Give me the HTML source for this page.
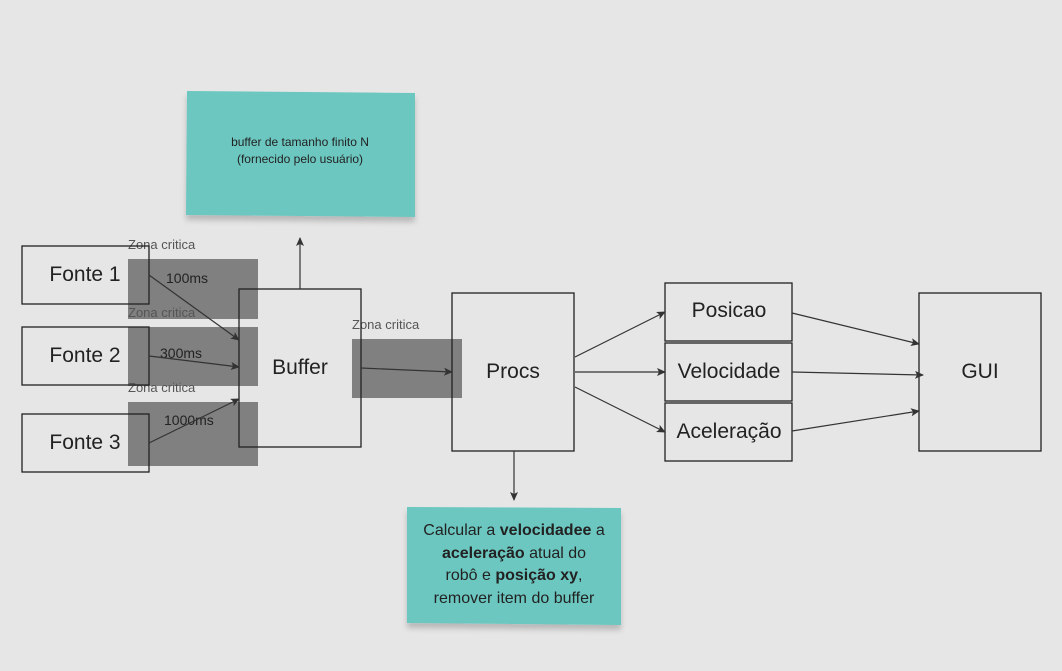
<!DOCTYPE html>
<html><head><meta charset="utf-8"><style>
html,body{margin:0;padding:0;background:#e6e6e6;}
svg{display:block;font-family:"Liberation Sans","DejaVu Sans",sans-serif;}
</style></head><body>
<svg width="1062" height="671" viewBox="0 0 1062 671" xmlns="http://www.w3.org/2000/svg">
<defs>
<marker id="a" markerWidth="10" markerHeight="10" refX="8" refY="5" orient="auto" markerUnits="userSpaceOnUse"><path d="M0,1 L9,5 L0,9 L2,5 z" fill="#333"/></marker>
<filter id="sh" x="-10%" y="-10%" width="120%" height="130%"><feDropShadow dx="0" dy="5" stdDeviation="3" flood-color="#000" flood-opacity="0.2"/></filter>
</defs>
<rect width="1062" height="671" fill="#e6e6e6"/>
<!-- sticky notes -->
<path d="M187,91 L415,93 L415,217 L186,215 z" fill="#6cc7c0" filter="url(#sh)"/>
<text x="300" y="146" font-size="12" text-anchor="middle" fill="#222">buffer de tamanho finito N</text>
<text x="300" y="163" font-size="12" text-anchor="middle" fill="#222">(fornecido pelo usuário)</text>
<path d="M407,507 L621,508 L621,625 L407,623 z" fill="#6cc7c0" filter="url(#sh)"/>
<g font-size="16" text-anchor="middle" fill="#222">
<text x="514" y="535">Calcular a <tspan font-weight="bold">velocidadee</tspan> a</text>
<text x="514" y="558"><tspan font-weight="bold">aceleração</tspan> atual do</text>
<text x="514" y="580">robô e <tspan font-weight="bold">posição xy</tspan>,</text>
<text x="514" y="603">remover item do buffer</text>
</g>
<!-- grey zones -->
<g fill="#808080">
<rect x="128" y="259" width="130" height="60"/>
<rect x="128" y="327" width="130" height="59"/>
<rect x="128" y="402" width="130" height="64"/>
<rect x="352" y="339" width="110" height="59"/>
</g>
<g font-size="13" fill="#555">
<text x="128" y="249">Zona critica</text>
<text x="128" y="317">Zona critica</text>
<text x="128" y="392">Zona critica</text>
<text x="352" y="329">Zona critica</text>
</g>
<!-- boxes -->
<g fill="none" stroke="#222" stroke-width="1.3">
<rect x="22" y="246" width="127" height="58"/>
<rect x="22" y="327" width="127" height="58"/>
<rect x="22" y="414" width="127" height="58"/>
<rect x="239" y="289" width="122" height="158"/>
<rect x="452" y="293" width="122" height="158"/>
<rect x="665" y="283" width="127" height="58"/>
<rect x="665" y="343" width="127" height="58"/>
<rect x="665" y="403" width="127" height="58"/>
<rect x="919" y="293" width="122" height="158"/>
</g>
<g font-size="21" fill="#222" text-anchor="middle">
<text x="85" y="281">Fonte 1</text>
<text x="85" y="362">Fonte 2</text>
<text x="85" y="449">Fonte 3</text>
<text x="300" y="374">Buffer</text>
<text x="513" y="378">Procs</text>
<text x="729" y="317">Posicao</text>
<text x="729" y="378">Velocidade</text>
<text x="729" y="438">Aceleração</text>
<text x="980" y="378">GUI</text>
</g>
<g font-size="14" fill="#222">
<text x="166" y="283">100ms</text>
<text x="160" y="358">300ms</text>
<text x="164" y="425">1000ms</text>
</g>
<!-- connectors -->
<g stroke="#333" stroke-width="1.2" fill="none" marker-end="url(#a)">
<line x1="149" y1="275" x2="239" y2="340"/>
<line x1="149" y1="356" x2="239" y2="367"/>
<line x1="149" y1="443" x2="239" y2="399"/>
<line x1="300" y1="289" x2="300" y2="238"/>
<line x1="361" y1="368" x2="452" y2="372"/>
<line x1="514" y1="451" x2="514" y2="500"/>
<line x1="575" y1="357" x2="665" y2="312"/>
<line x1="575" y1="372" x2="665" y2="372"/>
<line x1="575" y1="387" x2="665" y2="432"/>
<line x1="792" y1="313" x2="919" y2="344"/>
<line x1="792" y1="372" x2="923" y2="375"/>
<line x1="792" y1="431" x2="919" y2="411"/>
</g>
</svg>
</body></html>
